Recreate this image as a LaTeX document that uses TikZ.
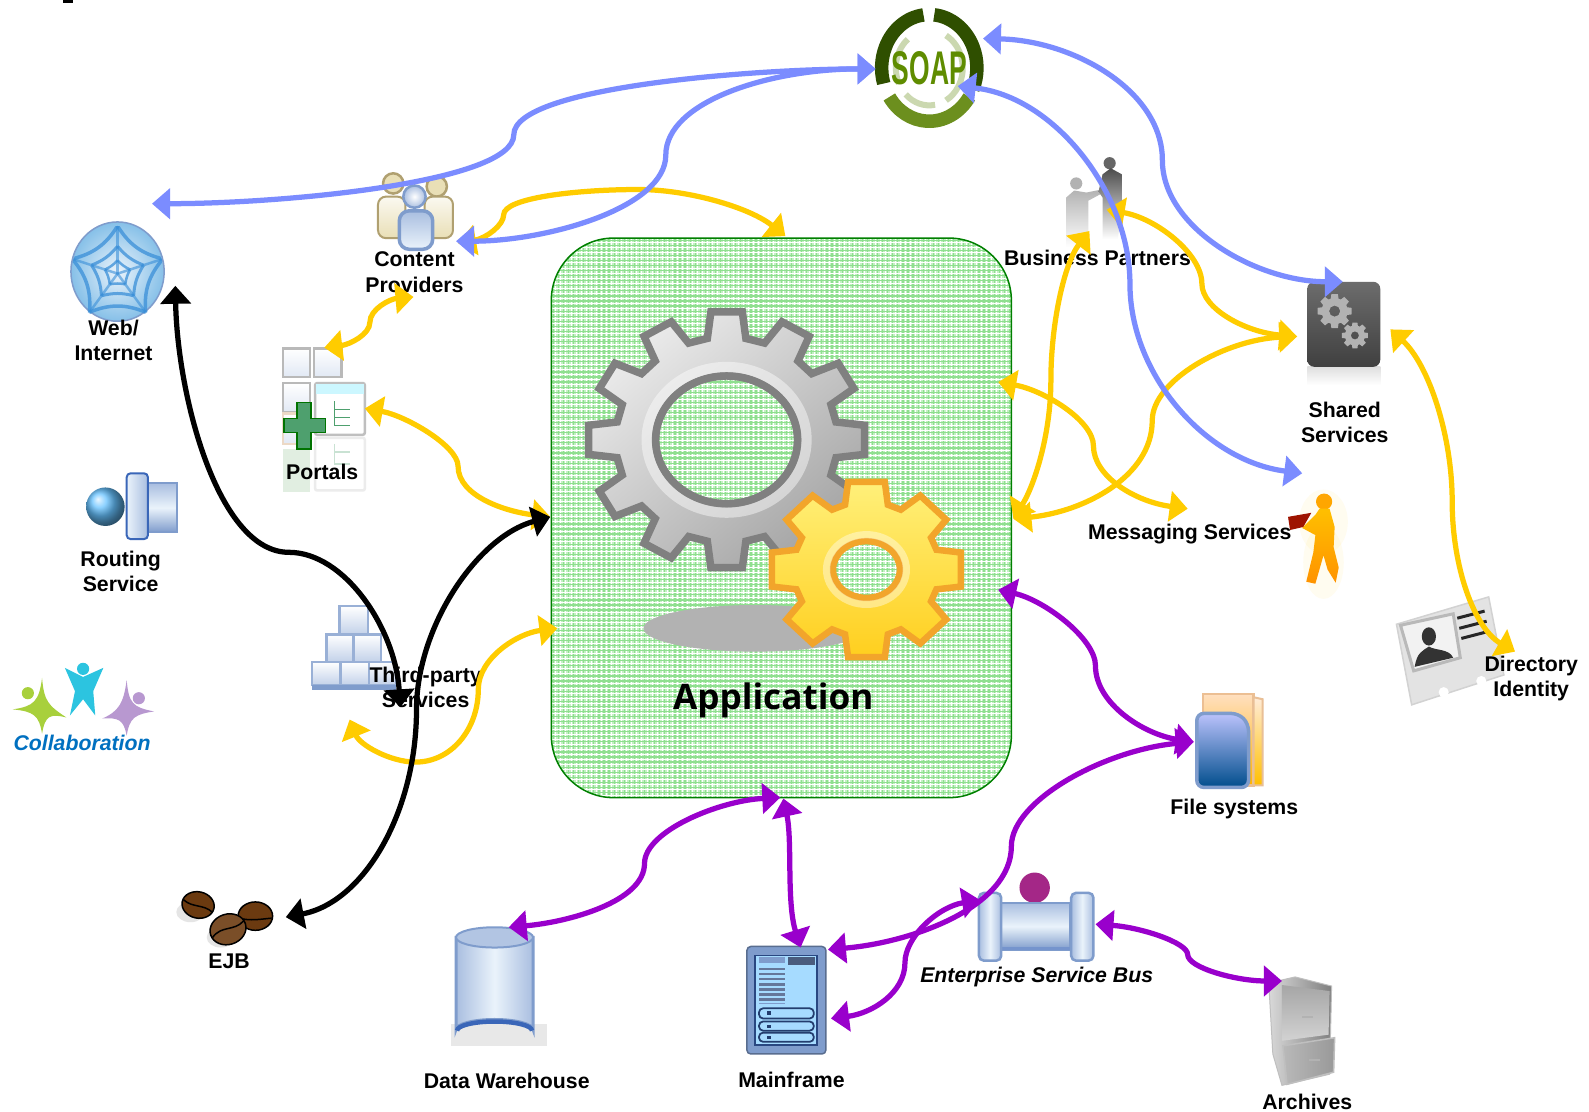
\documentclass[tikz,border=0pt]{standalone}
\usepackage{fontspec}
\setmainfont{Liberation Sans}
\newfontfamily\appfont{Open Sans}
\usetikzlibrary{arrows.meta,shapes.geometric}
\definecolor{cblue}{HTML}{7B8CFF}
\definecolor{cyel}{HTML}{FFCC00}
\definecolor{cpur}{HTML}{9900CC}
\definecolor{gridg}{HTML}{8FDF8F}
\definecolor{baseg}{HTML}{C4F0C4}
\definecolor{boxg}{HTML}{008000}
\definecolor{icoedge}{HTML}{7F9CCC}
\definecolor{icodark}{HTML}{3A66B8}
\definecolor{icomid}{HTML}{A9BEE0}
\definecolor{icolite}{HTML}{EAF3FB}
\definecolor{beige}{HTML}{E9DFB6}
\definecolor{beigee}{HTML}{B0A070}
\definecolor{soapd}{HTML}{2F4F00}
\definecolor{soapm}{HTML}{6C8F1E}
\definecolor{soapt}{HTML}{5F8C00}
\definecolor{bean}{HTML}{6B3A10}
\definecolor{gearo}{HTML}{F2A52B}
\definecolor{geart}{HTML}{FFF07A}
\definecolor{gearb}{HTML}{FFCF1E}
\definecolor{colg}{HTML}{A8D03C}
\definecolor{colb}{HTML}{2CC4E0}
\definecolor{colp}{HTML}{B898D0}
\definecolor{plusg}{HTML}{4EA06E}
\definecolor{globeo}{HTML}{86C0E8}
\definecolor{globew}{HTML}{3A8FD8}
\def\gearpts#1#2#3#4#5#6#7#8{%
 \gdef\gp{}%
 \pgfmathsetmacro\gstep{360/#6}%
 \foreach \k in {1,...,#6}{%
  \pgfmathsetmacro\ga{\k*\gstep}%
  \pgfmathsetmacro\xa{#1+#3*#5*cos(\ga-#8)}\pgfmathsetmacro\ya{#2+#4*#5*sin(\ga-#8)}%
  \pgfmathsetmacro\xb{#1+#3*cos(\ga-#7)}\pgfmathsetmacro\yb{#2+#4*sin(\ga-#7)}%
  \pgfmathsetmacro\xc{#1+#3*cos(\ga+#7)}\pgfmathsetmacro\yc{#2+#4*sin(\ga+#7)}%
  \pgfmathsetmacro\xd{#1+#3*#5*cos(\ga+#8)}\pgfmathsetmacro\yd{#2+#4*#5*sin(\ga+#8)}%
  \xdef\gp{\gp (\xa,\ya) -- (\xb,\yb) -- (\xc,\yc) -- (\xd,\yd) -- }%
 }%
 \xdef\gp{\gp cycle}%
}
\tikzset{
 lab/.style={font=\bfseries\fontsize{12.1}{14.4}\selectfont,align=center,inner sep=0pt,text=black},
 labi/.style={font=\bfseries\itshape\fontsize{12.1}{14.4}\selectfont,inner sep=0pt,text=black},
 icon/.style={inner sep=0pt,minimum size=0pt},
 conn/.style={line width=.105cm,line cap=butt,{Triangle[length=.36cm,width=.6cm]}-{Triangle[length=.36cm,width=.6cm]}},
 bl/.style={conn,draw=cblue,fill=none},
 ye/.style={conn,draw=cyel,fill=none},
 pu/.style={conn,draw=cpur,fill=none},
 bk/.style={conn,draw=black,fill=none},
 tube/.style={draw=icoedge,line width=.04cm,top color=icomid,bottom color=icoedge,middle color=icolite},
 block/.style={draw=icoedge!80,line width=.05cm,top color=white,bottom color=icomid!70},
 sq/.style={draw=#1,line width=.045cm,top color=white,bottom color=icomid!35},
}
\begin{document}
\begin{tikzpicture}[x=0.020268cm,y=-0.020268cm]
\useasboundingbox (0,0) rectangle (1568,1097);
\fill[white] (0,0) rectangle (1568,1097);
% cut-off mark at the top edge
\fill[black] (62,0) rectangle (72,3);

% ---------- application box
\begin{scope}
 \clip[rounded corners=1.25cm] (544,235) rectangle (998,787);
 \fill[baseg] (544,235) rectangle (998,787);
 \foreach \i in {0,...,90}{\draw[gridg,line width=.024cm] ({546+5*\i},235) -- ({546+5*\i},787);\draw[white,line width=.02cm] ({548.5+5*\i},235) -- ({548.5+5*\i},787);}
 \foreach \i in {0,...,110}{\draw[gridg,line width=.024cm] (544,{237+5*\i}) -- (998,{237+5*\i});\draw[white,line width=.02cm] (544,{239.5+5*\i}) -- (998,{239.5+5*\i});}
\end{scope}
\node[icon,draw=boxg,line width=.03cm,rounded corners=1.25cm,minimum width=9.2cm,minimum height=11.19cm] (app) at (771,511) {};

% shadow
\fill[gray!60!white] (745,620) ellipse [x radius=110,y radius=23];
% big gear
\gearpts{717}{434}{137}{127}{.80}{12}{6.5}{10}
\path[even odd rule,draw=gray,line width=.15cm,line join=miter,left color=white!92!black,right color=black!35!white,shading angle=40] \gp (717,434) ellipse [x radius=70,y radius=63];
\draw[white,opacity=.45,line width=.2cm] (717,434) ellipse [x radius=79,y radius=72];
\draw[gray,line width=.14cm] (717,434) ellipse [x radius=70,y radius=63];
% yellow gear
\gearpts{855}{562}{95}{88}{.76}{8}{11}{17}
\path[even odd rule,draw=gearo,line width=.13cm,line join=miter,top color=geart,bottom color=gearb] \gp (855,562) ellipse [x radius=33,y radius=28];
\draw[white,opacity=.4,line width=.16cm] (855,562) ellipse [x radius=39,y radius=34];
\draw[gearo,line width=.11cm] (855,562) ellipse [x radius=33,y radius=28];
\node[font=\appfont\bfseries\fontsize{20}{24}\selectfont,inner sep=0pt] (applabel) at (763,691) {Application};

% ---------- SOAP
\begin{scope}[shift={(917,67)},y=0.020268cm,yscale=1.12]
 \draw[soapd,line width=.27cm] (84:47) arc[start angle=84,end angle=-24,radius=47];
 \draw[soapd,line width=.27cm] (97:47) arc[start angle=97,end angle=197,radius=47];
 \draw[soapm,line width=.27cm] (-33:47) arc[start angle=-33,end angle=-147,radius=47];
 \draw[soapm!35!white,line width=.12cm] (130:33) arc[start angle=130,end angle=205,radius=33];
 \draw[soapm!35!white,line width=.12cm] (60:33) arc[start angle=60,end angle=-60,radius=33];
 \draw[soapm!35!white,line width=.12cm] (-80:33) arc[start angle=-80,end angle=-135,radius=33];
\end{scope}
\node[icon,text=soapt,font=\bfseries] (soap) at (917,67) {\resizebox{1.5cm}{.66cm}{SOAP}};

% ---------- globe
\shade[inner color=icolite,outer color=globeo,draw=icoedge,line width=.03cm] (116,268) ellipse [x radius=46,y radius=49];
\begin{scope}[shift={(116,270)},y=0.020268cm]
 \clip (0,-2) ellipse [x radius=46,y radius=49];
 \foreach \a in {90,162,234,306,18}{
  \pgfmathsetmacro\b{\a+72}
  \draw[globew,opacity=.6,line width=.05cm] (0,0) -- (\a:48);
  \draw[globew,opacity=.75,line width=.07cm] (\a:47) to[bend right=-22] (\b:47);
  \draw[globew,opacity=.75,line width=.06cm] (\a:27) to[bend right=-14] (\b:27);
  \draw[globew,opacity=.75,line width=.05cm] (\a:13) to[bend right=-10] (\b:13);
 }
\end{scope}
\coordinate (web) at (116,268);
\node[lab] (weblabel) at (112,336) {Web/\\Internet};

% ---------- content providers
\fill[beige,draw=beigee,line width=.05cm] (388,181) circle (10);
\fill[beige,draw=beigee,line width=.05cm] (431,184) circle (10);
\path[top color=white!80!beige,bottom color=beige,draw=beigee,line width=.04cm,rounded corners=.16cm] (373,235) -- (373,194) -- (400,194) -- (400,235) -- cycle;
\path[top color=white!80!beige,bottom color=beige,draw=beigee,line width=.04cm,rounded corners=.16cm] (419,235) -- (419,194) -- (447,194) -- (447,235) -- cycle;
\shade[inner color=white,outer color=icomid,draw=icoedge,line width=.05cm] (409,194) circle (11);
\path[top color=icomid,bottom color=icolite,draw=icoedge,line width=.07cm,rounded corners=.2cm] (394,246) -- (394,208) -- (427,208) -- (427,246) -- cycle;
\node[lab] (content) at (409,268.5) {Content\\Providers};

% ---------- portals
\path[sq=gray!55] (279,344) rectangle (306,372);
\path[sq=gray!55] (310,344) rectangle (337,372);
\path[sq=gray!55] (279,378) rectangle (306,407);
\path[sq=brown!30!white] (279,408) rectangle (306,438);
\fill[green!30!gray,opacity=.18] (279,443) rectangle (306,485);
\path[fill=white,draw=gray!50,line width=.05cm,rounded corners=.04cm] (311,378) rectangle (360,429);
\fill[blue!15!cyan!20!white] (312,379) rectangle (359,389);
\draw[plusg,line width=.03cm] (330,396) -- (330,420) -- (345,420) (330,404) -- (345,404) (330,412) -- (345,412);
\path[draw=gray!15,line width=.05cm,fill=white,rounded corners=.04cm] (311,432) rectangle (360,484);
\draw[plusg,opacity=.3,line width=.03cm] (330,438) -- (330,458) -- (345,458) (330,446) -- (345,446);
\path[draw=green!45!black,line width=.03cm,fill=plusg] (293,397) -- (307,397) -- (307,413) -- (321,413) -- (321,427) -- (307,427) -- (307,443) -- (293,443) -- (293,427) -- (280,427) -- (280,413) -- (293,413) -- cycle;
\node[lab] (portals) at (318,466) {Portals};

% ---------- routing service
\shade[ball color=blue!40!cyan!60!white] (104,500) circle (19);
\path[tube] (146,477) rectangle (175,525);
\path[left color=icolite,right color=icomid,draw=icodark,line width=.04cm,rounded corners=.08cm] (125,467) -- (146,467) -- (146,532) -- (125,532) -- cycle;
\node[lab] (routing) at (119,563.5) {Routing\\Service};

% ---------- collaboration
\begin{scope}[shift={(41.5,700)}]
 \fill[colg] (0,-31) .. controls (2,-8) and (6,-4) .. (24,8) .. controls (8,4) and (3,6) .. (0,24) .. controls (-3,6) and (-8,2) .. (-29,0) .. controls (-8,-3) and (-3,-8) .. (0,-31);
 \fill[colg] (-14,-16) circle (6);
\end{scope}
\fill[colb] (64,659) -- (82,668) -- (102,659) -- (92,682) -- (94,706) -- (82,690) -- (69,706) -- (74,682) -- cycle;
\fill[colb] (82,660) circle (6);
\begin{scope}[shift={(125,702)}]
 \fill[colp] (0,-31) .. controls (2,-8) and (6,-4) .. (27,0) .. controls (8,3) and (3,6) .. (0,24) .. controls (-3,8) and (-8,6) .. (-24,7) .. controls (-8,0) and (-3,-8) .. (0,-31);
 \fill[colp] (12,-13) circle (6);
\end{scope}
\node[icon,font=\bfseries\itshape\fontsize{12.1}{14.4}\selectfont,text={rgb,255:red,0;green,112;blue,192}] (collab) at (81,733) {Collaboration};

% ---------- third party
\path[block] (335,598) rectangle (363,626);
\path[block] (322,626) rectangle (349,653);
\path[block] (349,626) rectangle (376,653);
\path[block] (308,653) rectangle (336,676);
\path[block] (336,653) rectangle (364,676);
\path[block] (364,653) rectangle (391,676);
\fill[icoedge] (308,676) rectangle (391,681);
\node[lab] (third) at (420,678) {Third-party\\Services};

% ---------- EJB beans
\fill[gray!20] (188,900) ellipse [x radius=14,y radius=10];
\fill[gray!20] (218,925) ellipse [x radius=14,y radius=10];
\begin{scope}[shift={(195.5,893)},rotate=-12]
 \fill[bean,draw=black,line width=.03cm] (0,0) ellipse [x radius=16,y radius=13];
 \draw[black,line width=.03cm] (-15,-2) .. controls (-5,4) and (5,-2) .. (15,4);
\end{scope}
\begin{scope}[shift={(252,904)},rotate=0]
 \fill[bean,draw=black,line width=.03cm] (0,0) ellipse [x radius=17,y radius=14];
 \draw[black,line width=.03cm] (-16,2) .. controls (-5,5) and (5,3) .. (16,2);
\end{scope}
\begin{scope}[shift={(225,917)},rotate=18]
 \fill[bean!90!white,draw=black,line width=.03cm] (0,0) ellipse [x radius=18,y radius=15];
 \draw[black,line width=.03cm] (-17,3) .. controls (-5,-6) and (5,4) .. (17,-3);
\end{scope}
\coordinate (ejb) at (226,905);
\node[lab] (ejblabel) at (226,949) {EJB};

% ---------- data warehouse
\fill[gray!18] (445,1010) rectangle (540,1032);
\path[left color=icomid,right color=icomid,middle color=icolite,draw=icoedge,line width=.06cm] (450,925) -- (450,1016) arc[start angle=180,end angle=360,x radius=38,y radius=10] -- (526,925) -- cycle;
\path[fill=icomid!90!white,draw=icoedge,line width=.04cm] (488,925) ellipse [x radius=38,y radius=10];
\draw[icodark,line width=.09cm] (451,1017) arc[start angle=180,end angle=360,x radius=37,y radius=9];
\node[lab] (dw) at (500,1067) {Data Warehouse};

% ---------- mainframe
\node[icon,fill=icoedge,draw=icoedge!70!black,line width=.03cm,rounded corners=.08cm,minimum width=1.58cm,minimum height=2.15cm] (mf) at (776,987) {};
\path[fill=blue!40!cyan!35!white,draw=icodark!70!black,line width=.03cm] (745,943) rectangle (806,1031);
\fill[icodark!50!black!80!white] (778,944) rectangle (804,952);
\fill[icoedge] (749,944) rectangle (775,950);
\foreach \yy in {955,960,...,985}{\fill[icodark!60!black!70!white] (749,\yy) rectangle (775,\yy+2.5);}
\fill[icoedge] (749,990) rectangle (775,991);
\foreach \yy/\yz in {995/1005,1008/1017,1019/1028}{\draw[icodark!60!black,line width=.035cm,rounded corners=.08cm] (749,\yy) rectangle (803,\yz);\fill[icodark!60!black] (757,\yy+3) rectangle (761,\yz-3);}
\node[lab] (mflabel) at (781,1066) {Mainframe};

% ---------- ESB
\fill[magenta!70!blue!85!black] (1021,876) ellipse [x radius=15,y radius=15];
\path[tube] (988,891) rectangle (1056,937);
\fill[icodark!70!white] (988,934) rectangle (1056,937);
\path[left color=icomid,right color=icomid,middle color=icolite,draw=icoedge,line width=.05cm,rounded corners=.1cm] (966,948) -- (966,881) -- (988,881) -- (988,948) -- cycle;
\path[left color=icomid,right color=icomid,middle color=icolite,draw=icoedge,line width=.05cm,rounded corners=.1cm] (1057,948) -- (1057,881) -- (1079,881) -- (1079,948) -- cycle;
\coordinate (esb) at (1022,915);
\node[labi] (esblabel) at (1023,964) {Enterprise Service Bus};

% ---------- archives
\path[left color=white!85!black,right color=gray,draw=gray!50,line width=.02cm] (1252,970) -- (1278,964) -- (1314,973) -- (1312,1060) -- (1265,1071) -- (1256,1040) -- cycle;
\path[top color=gray!70,bottom color=gray!35] (1265,972) -- (1312,978) -- (1311,1021) -- (1265,1027) -- cycle;
\path[left color=gray!55,right color=gray!80,draw=gray!50,line width=.03cm] (1266,1032) -- (1317,1024) -- (1316,1058) -- (1270,1070) -- cycle;
\fill[gray!60] (1285,1003) rectangle (1296,1005);
\fill[gray!60] (1292,1045) rectangle (1303,1047);
\node[lab] (archives) at (1290,1087) {Archives};

% ---------- file systems
\path[top color=orange!25!white,bottom color=orange!60!yellow,draw=orange!40!brown!50!white,line width=.05cm] (1187,775) -- (1187,685) -- (1237,685) -- (1237,775) -- cycle;
\path[top color=orange!15!white,bottom color=orange!50!yellow,draw=orange!30!brown!50!white,line width=.04cm] (1237,688) -- (1246,690) -- (1246,775) -- (1237,775) -- cycle;
\path[top color=icolite!80!blue,bottom color=blue!45!cyan!55!black,draw=icoedge,line width=.07cm,rounded corners=.14cm] (1181,777) -- (1181,704) -- (1222,704) -- (1232,714) -- (1232,777) -- cycle;
\coordinate (files) at (1215,730);
\node[lab] (fileslabel) at (1218,798) {File systems};

% ---------- business partners
\fill[gray!60] (1062,181) circle (6);
\path[top color=gray!60,bottom color=white] (1052,244) -- (1052,195) -- (1060,188) -- (1072,190) -- (1087,187) -- (1087,191) -- (1074,198) -- (1074,244) -- cycle;
\fill[gray!80!black] (1095,161) circle (6);
\path[top color=gray!60!black,bottom color=white] (1088,236) -- (1088,195) -- (1084,189) -- (1088,172) -- (1096,166) -- (1107,172) -- (1108,200) -- (1103,236) -- cycle;
\coordinate (partners) at (1080,200);
\node[lab] (partnerslabel) at (1083,254) {Business Partners};

% ---------- shared services
\path[top color=gray!25,bottom color=white] (1290,362) rectangle (1362,380);
\node[icon,rounded corners=.14cm,top color=gray!85!black,bottom color=black!75!white,minimum width=1.46cm,minimum height=1.7cm] (shared) at (1326,320) {};
\gearpts{1317}{307}{17}{17}{.76}{8}{11}{17}
\path[even odd rule,fill=gray!60!white] \gp (1317,307) circle (5.5);
\gearpts{1337}{331}{13}{13}{.76}{8}{11}{17}
\path[even odd rule,fill=gray!60!white] \gp (1337,331) circle (4);
\node[lab] (sharedlabel) at (1327,417) {Shared\\Services};

% ---------- messaging figure
\fill[orange!40!yellow,opacity=.06] (1306,515) ellipse [x radius=24,y radius=32];
\fill[orange!40!yellow,opacity=.06] (1306,555) ellipse [x radius=20,y radius=36];
\fill[orange!70!yellow] (1306.6,495) circle (8);
\path[top color=orange!50!yellow,bottom color=orange!85!yellow] (1302,502) -- (1312,502) -- (1317,520) -- (1316,540) -- (1321,560) -- (1318,575) -- (1310,562) -- (1306,548) -- (1298,576) -- (1289,574) -- (1296,545) -- (1298,528) -- (1285,521) -- (1298,508) -- cycle;
\fill[red!55!black!85!orange] (1271,510) -- (1294,506) -- (1286,520) -- (1273,523) -- cycle;
\coordinate (msg) at (1305,530);
\node[lab] (msglabel) at (1174,527) {Messaging Services};

% ---------- directory identity
\path[fill=gray!22,draw=gray!35,line width=.03cm] (1378,616) -- (1469,589) -- (1484,666) -- (1393,695.5) -- cycle;
\fill[white] (1424.6,683) circle (5);
\fill[white] (1461.7,672) circle (5);
\path[fill=white!95!black,draw=gray!55,line width=.06cm] (1382,617) -- (1434,605.7) -- (1441,649) -- (1395,662) -- cycle;
\fill[gray!40!black] (1410,628) ellipse [x radius=7,y radius=9];
\fill[gray!40!black] (1396,658) .. controls (1398,644) and (1404,642) .. (1410,638) .. controls (1416,642) and (1430,640) .. (1434,649) -- cycle;
\draw[gray!30!black,line width=.06cm] (1438,610) -- (1465,603) (1440,620) -- (1467,613) (1442,630) -- (1469,623);
\coordinate (dir) at (1430,640);
\node[lab] (dirlabel) at (1511,669.5) {Directory\\Identity};

% ---------- connector ports
\coordinate (soapL) at (864,68);
\coordinate (soapR) at (970,38);
\coordinate (soapI) at (945,85);
\coordinate (webT) at (150,201);
\coordinate (webB) at (173,282);
\coordinate (contB) at (450,238);
\coordinate (contY) at (452,240);
\coordinate (contS) at (408,293);
\coordinate (appT) at (775,233);
\coordinate (portT) at (320,343);
\coordinate (portR) at (360,403);
\coordinate (appL) at (543,510);
\coordinate (appL2) at (550,620);
\coordinate (thirdY) at (345,710);
\coordinate (thirdK) at (395,698);
\coordinate (ejbR) at (282,905);
\coordinate (partA) at (1075,228);
\coordinate (partB) at (1092,207);
\coordinate (appR) at (1000,512);
\coordinate (appR1) at (985,377);
\coordinate (appR2) at (985,582);
\coordinate (shL) at (1280,332);
\coordinate (shT) at (1325,278);
\coordinate (shR) at (1372,325);
\coordinate (msgL) at (1172,502);
\coordinate (msgT) at (1285,467);
\coordinate (dirT) at (1495,643);
\coordinate (fileL) at (1178,732);
\coordinate (appB) at (770,787);
\coordinate (appB2) at (773,788);
\coordinate (dwT) at (502,915);
\coordinate (mfT) at (790,935);
\coordinate (mfR) at (817,937);
\coordinate (mfR2) at (820,1005);
\coordinate (esbL) at (967,888);
\coordinate (esbR) at (1081,912);
\coordinate (archL) at (1265,968);

% ---------- connectors
\draw[ye] (contY) .. controls (480,235) and (497,222) .. (497,212) .. controls (497,195) and (570,187) .. (630,187) .. controls (680,187) and (740,205) .. (appT);
\draw[ye] (contS) .. controls (385,295) and (365,305) .. (365,318) .. controls (365,330) and (345,340) .. (portT);
\draw[ye] (portR) .. controls (400,410) and (452,440) .. (452,460) .. controls (452,490) and (500,505) .. (appL);
\draw[ye] (thirdY) .. controls (355,735) and (385,752) .. (410,752) .. controls (445,752) and (472,720) .. (472,680) .. controls (472,650) and (510,625) .. (appL2);
\draw[bk] (webB) .. controls (175,390) and (215,545) .. (285,545) .. controls (340,545) and (390,620) .. (thirdK);
\draw[bk] (appL) .. controls (470,530) and (411,620) .. (411,700) .. controls (411,800) and (360,890) .. (ejbR);
\draw[ye] (partB) .. controls (1140,215) and (1186,250) .. (1186,280) .. controls (1186,305) and (1230,328) .. (shL);
\draw[ye] (partA) .. controls (1050,260) and (1037,320) .. (1037,375) .. controls (1037,430) and (1020,480) .. (appR);
\draw[ye] (appR1) .. controls (1030,385) and (1079,415) .. (1079,440) .. controls (1079,470) and (1120,495) .. (msgL);
\draw[ye] (appR) .. controls (1070,505) and (1137,470) .. (1137,415) .. controls (1137,375) and (1210,335) .. (shL);
\draw[ye] (shR) .. controls (1410,360) and (1433,430) .. (1433,495) .. controls (1433,560) and (1455,620) .. (dirT);
\draw[bl] (soapL) .. controls (750,68) and (507,85) .. (507,133) .. controls (507,180) and (280,201) .. (webT);
\draw[bl] (soapL) .. controls (760,68) and (657,100) .. (657,153) .. controls (657,205) and (540,238) .. (contB);
\draw[bl] (soapR) .. controls (1060,40) and (1147,90) .. (1147,158) .. controls (1147,225) and (1240,278) .. (shT);
\draw[bl] (soapI) .. controls (1040,95) and (1115,190) .. (1115,280) .. controls (1115,370) and (1190,455) .. (msgT);
\draw[pu] (appR2) .. controls (1030,592) and (1081,630) .. (1081,657) .. controls (1081,695) and (1130,725) .. (fileL);
\draw[pu] (appB) .. controls (710,790) and (636,820) .. (636,852) .. controls (636,890) and (560,910) .. (dwT);
\draw[pu] (appB2) .. controls (782,830) and (776,890) .. (mfT);
\draw[pu] (fileL) .. controls (1090,740) and (998,790) .. (998,835) .. controls (998,895) and (900,930) .. (mfR);
\draw[pu] (esbL) .. controls (925,895) and (893,925) .. (893,950) .. controls (893,980) and (860,1000) .. (mfR2);
\draw[pu] (esbR) .. controls (1125,915) and (1172,930) .. (1172,942) .. controls (1172,955) and (1220,968) .. (archL);
\end{tikzpicture}
\end{document}
